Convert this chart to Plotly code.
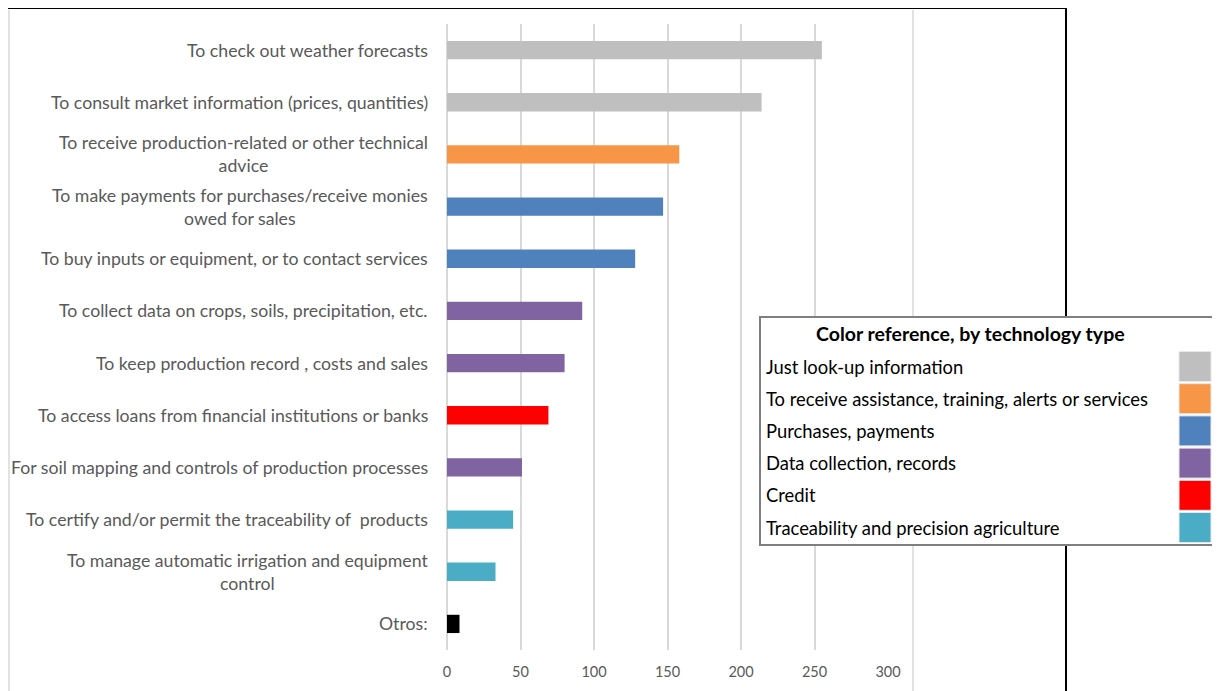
import plotly.graph_objects as go

# The page body has an 8px margin, so the figure is drawn 8px in from the window edge.
OFF = 8
W, H = 1220 - OFF, 691 - OFF

categories = [
    "To check out weather forecasts",
    "To consult market information (prices, quantities)",
    "To receive production-related or other technical<br>advice",
    "To make payments for purchases/receive monies<br>owed for sales",
    "To buy inputs or equipment, or to contact services",
    "To collect data on crops, soils, precipitation, etc.",
    "To keep production record , costs and sales",
    "To access loans from financial institutions or banks",
    "For soil mapping and controls of production processes",
    "To certify and/or permit the traceability of  products",
    "To manage automatic irrigation and equipment<br>control",
    "Otros:",
]
values = [255, 214, 158, 147, 128, 92, 80, 69, 51, 45, 33, 8.5]
bar_colors = ["#BFBFBF", "#BFBFBF", "#F79646", "#4F81BD", "#4F81BD", "#8064A2",
              "#8064A2", "#FF0000", "#8064A2", "#4BACC6", "#4BACC6", "#000000"]

legend_title = "Color reference, by technology type"
legend_labels = ["Just look-up information",
                 "To receive assistance, training, alerts or services",
                 "Purchases, payments",
                 "Data collection, records",
                 "Credit",
                 "Traceability and precision agriculture"]
legend_colors = ["#BFBFBF", "#F79646", "#4F81BD", "#8064A2", "#FF0000", "#4BACC6"]

x_ticks = [0, 50, 100, 150, 200, 250, 300]


def px(x):
    return (x - OFF) / W


def py(y):
    return 1 - (y - OFF) / H


FONT = "Lato, Calibri, Carlito, sans-serif"

fig = go.Figure()
fig.add_trace(go.Bar(
    x=values, y=list(range(len(categories))), orientation="h",
    marker=dict(color=bar_colors, line=dict(width=0)),
    width=0.35, hoverinfo="x",
))

shapes = []
# outer black frame
shapes.append(dict(type="line", xref="paper", yref="paper", x0=0, x1=px(1066), y0=py(8), y1=py(8),
                   line=dict(color="black", width=2), layer="above"))
shapes.append(dict(type="line", xref="paper", yref="paper", x0=px(1066), x1=px(1066), y0=py(8), y1=0,
                   line=dict(color="black", width=2), layer="above"))
# inner chart area border (light grey)
shapes.append(dict(type="line", xref="paper", yref="paper", x0=px(9), x1=px(9), y0=py(10), y1=0,
                   line=dict(color="#D9D9D9", width=1.5), layer="below"))
shapes.append(dict(type="line", xref="paper", yref="paper", x0=px(913), x1=px(913), y0=py(10), y1=0,
                   line=dict(color="#D9D9D9", width=1.5), layer="below"))
# legend box
shapes.append(dict(type="rect", xref="paper", yref="paper", x0=px(760), x1=px(1214), y0=py(317), y1=py(545),
                   fillcolor="white", line=dict(color="#7F7F7F", width=2), layer="above"))

annotations = []
for i, cat in enumerate(categories):
    annotations.append(dict(xref="paper", yref="y", x=px(430), y=i, text=cat, showarrow=False,
                            xanchor="right", yanchor="middle", align="center",
                            font=dict(family=FONT, size=17.7, color="#595959")))

annotations.append(dict(xref="paper", yref="paper", x=px(970), y=py(333), text="<b>" + legend_title + "</b>",
                        showarrow=False, xanchor="center", yanchor="middle",
                        font=dict(family=FONT, size=19.5, color="black")))
row_top = 351.5
row_h = 32.2
for i, (lab, col) in enumerate(zip(legend_labels, legend_colors)):
    y0 = row_top + i * row_h
    y1 = y0 + 30
    shapes.append(dict(type="rect", xref="paper", yref="paper", x0=px(1179), x1=px(1211), y0=py(y0), y1=py(y1),
                       fillcolor=col, line=dict(color="#E8E8E8", width=1), layer="above"))
    annotations.append(dict(xref="paper", yref="paper", x=px(764), y=py((y0 + y1) / 2), text=lab,
                            showarrow=False, xanchor="left", yanchor="middle",
                            font=dict(family=FONT, size=18.4, color="black")))

fig.update_layout(
    width=W, height=H,
    margin=dict(l=0, r=0, t=0, b=0),
    paper_bgcolor="white", plot_bgcolor="white",
    showlegend=False,
    xaxis=dict(domain=[px(447), px(888)], range=[0, 300], tickvals=x_ticks,
               showgrid=True, gridcolor="#D9D9D9", gridwidth=1.5,
               zeroline=True, zerolinecolor="#D9D9D9", zerolinewidth=1.5,
               showline=False, ticks="", automargin=False,
               tickfont=dict(family=FONT, size=14.5, color="#595959"), ticklabelstandoff=11),
    yaxis=dict(domain=[py(650), py(24)], range=[11.5, -0.5], showticklabels=False,
               showgrid=False, zeroline=False, showline=False, ticks="", automargin=False),
    shapes=shapes,
    annotations=annotations,
)

fig.write_html("out.html")
